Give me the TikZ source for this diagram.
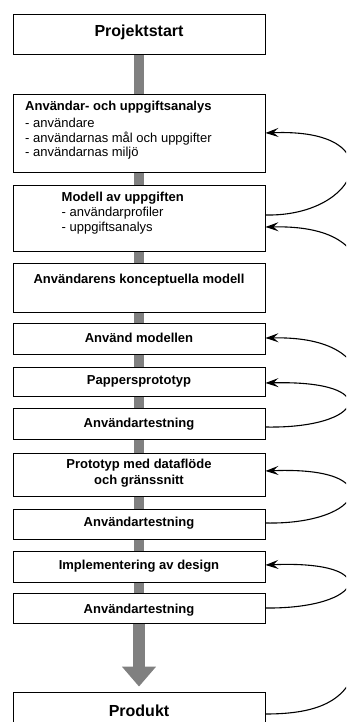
\documentclass[tikz,border=0pt]{standalone}
\usepackage{fontspec}
\setmainfont{Liberation Sans}
\usetikzlibrary{arrows.meta,backgrounds}
\definecolor{barg}{RGB}{128,128,128}
\begin{document}
\begin{tikzpicture}[x=1pt,y=1pt,
  box/.style={draw=black, line width=0.9pt, fill=white, minimum width=252pt, inner sep=0pt},
  ttl/.style={font=\fontsize{13}{15}\selectfont\bfseries, anchor=base, inner sep=0pt},
  ttlw/.style={font=\fontsize{13}{15}\selectfont\bfseries, anchor=base west, inner sep=0pt},
  bigt/.style={font=\fontsize{16}{18}\selectfont\bfseries, anchor=base, inner sep=0pt},
  item/.style={font=\fontsize{13}{15}\selectfont, anchor=base west, inner sep=0pt},
  bar/.style={draw=barg, line width=10pt},
  bigarrow/.style={draw=barg, line width=12pt, -{Triangle[length=20pt,width=33pt]}},
  loopline/.style={draw=black, line width=1.1pt},
  looparrow/.style={loopline, -{Stealth[length=13pt,width=9pt,inset=5pt]}},
]
\useasboundingbox (0,0) rectangle (346,-722);
\clip (0,0) rectangle (346,-722);

% boxes
\node[box, minimum height=40pt] (P0) at (139,-34) {};
\node[box, minimum height=78pt] (B1) at (139,-133) {};
\node[box, minimum height=66pt] (B2) at (139,-218) {};
\node[box, minimum height=49pt] (B3) at (139,-287.5) {};
\node[box, minimum height=31pt] (B4) at (139,-338.5) {};
\node[box, minimum height=29pt] (B5) at (139,-381.5) {};
\node[box, minimum height=31pt] (B6) at (139,-423.5) {};
\node[box, minimum height=43pt] (B7) at (139,-474.5) {};
\node[box, minimum height=30pt] (B8) at (139,-524) {};
\node[box, minimum height=31pt] (B9) at (139,-566.5) {};
\node[box, minimum height=30pt] (B10) at (139,-608) {};
\node[box, minimum height=40pt] (P1) at (139,-712) {};

% texts
\node[bigt] (tP0) at (139,-37) {Projektstart};
\node[ttlw] (t1a) at (25,-111) {Användar- och uppgiftsanalys};
\node[item] (t1b) at (25,-127.3) {- användare};
\node[item] (t1c) at (25,-142.3) {- användarnas mål och uppgifter};
\node[item] (t1d) at (25,-156.7) {- användarnas miljö};
\node[ttlw] (t2a) at (61.5,-201.7) {Modell av uppgiften};
\node[item] (t2b) at (61.5,-216.7) {- användarprofiler};
\node[item] (t2c) at (61.5,-231.7) {- uppgiftsanalys};
\node[ttl] (t3) at (139,-283) {Användarens konceptuella modell};
\node[ttl] (t4) at (139,-342) {Använd modellen};
\node[ttl] (t5) at (139,-384) {Pappersprototyp};
\node[ttl] (t6) at (139,-427) {Användartestning};
\node[ttl] (t7a) at (139,-468.3) {Prototyp med dataflöde};
\node[ttl] (t7b) at (139,-484.3) {och gränssnitt};
\node[ttl] (t8) at (139,-526.7) {Användartestning};
\node[ttl] (t9) at (139,-569.5) {Implementering av design};
\node[ttl] (t10) at (139,-613) {Användartestning};
\node[bigt] (tP1) at (139,-716) {Produkt};

% gray flow bar and big arrow
\begin{scope}[on background layer]
  \draw[bar] (P0.south) -- (B10.south);
  \draw[bigarrow, shorten >=5pt] (B10.south) -- (P1.north);
\end{scope}

% free ends of cut-off connectors
\coordinate (c2) at (362,-285);
\coordinate (c3) at (362,-395);
\coordinate (c7) at (358,-660);

% feedback loops
\draw[looparrow] ([yshift=3pt]B2.east) .. controls (360,-217) and (395,-128) .. (B1.east);
\draw[looparrow] (c2) .. controls (362,-238) and (320,-226) .. ([yshift=-9pt]B2.east);
\draw[looparrow] (c3) .. controls (362,-350) and (320,-337) .. ([yshift=0.5pt]B4.east);
\draw[looparrow] ([yshift=-3.5pt]B6.east) .. controls (365,-429) and (385,-380) .. ([yshift=-1.5pt]B5.east);
\draw[looparrow] ([yshift=1pt]B8.east) .. controls (365,-525) and (390,-466) .. ([yshift=3.5pt]B7.east);
\draw[looparrow] (B10.east) .. controls (365,-609) and (385,-560) .. ([yshift=1.5pt]B9.east);
\draw[loopline] ([yshift=-2pt]P1.east) .. controls (320,-714) and (350,-700) .. (c7);
\end{tikzpicture}
\end{document}
